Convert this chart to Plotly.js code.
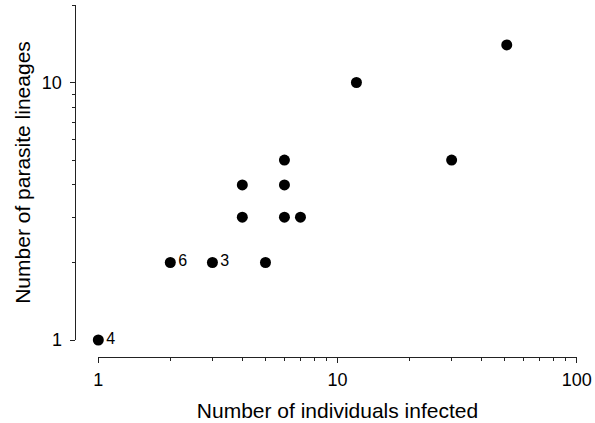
<!DOCTYPE html>
<html>
<head>
<meta charset="utf-8">
<script src="https://cdn.plot.ly/plotly-3.0.1.min.js"></script>
<style>
  html, body { margin: 0; padding: 0; background: #ffffff; }
  #chart { width: 595px; height: 423px; }
</style>
</head>
<body>
<div id="chart"></div>
<script>
// Data
const individualsInfected = [1, 2, 3, 5, 4, 4, 6, 6, 6, 7, 12, 30, 51];
const parasiteLineages    = [1, 2, 2, 2, 3, 4, 3, 4, 5, 3, 10, 5, 14];
const pointLabels         = ['4', '6', '3', '', '', '', '', '', '', '', '', '', ''];

const xTickVals = [1, 10, 100];
const xTickText = ['1', '10', '100'];
const xMinorVals = [2, 3, 4, 5, 6, 7, 8, 9, 20, 30, 40, 50, 60, 70, 80, 90];
const yTickVals = [1, 10];
const yTickText = ['1', '10'];
const yMinorVals = [2, 3, 4, 5, 6, 7, 8, 9, 20];

const W = 595, H = 423;
const font = 'Liberation Sans, Arial, Helvetica, sans-serif';

const trace = {
  type: 'scatter',
  mode: 'markers+text',
  x: individualsInfected,
  y: parasiteLineages,
  text: pointLabels,
  textposition: 'middle right',
  textfont: { family: font, size: 16, color: '#000' },
  marker: { size: 11, color: '#000' },
  cliponaxis: false,
  hoverinfo: 'x+y'
};

const axisCommon = {
  type: 'log',
  showgrid: false,
  zeroline: false,
  showline: true,
  linecolor: '#222',
  linewidth: 1,
  ticks: 'outside',
  ticklen: 5,
  tickwidth: 1,
  tickcolor: '#222',
  tickfont: { family: font, size: 18, color: '#000' },
  anchor: 'free',
  automargin: false,
  fixedrange: true
};

const layout = {
  width: W,
  height: H,
  margin: { l: 0, r: 0, t: 0, b: 0, pad: 0 },
  paper_bgcolor: '#fff',
  plot_bgcolor: '#fff',
  showlegend: false,
  font: { family: font, color: '#000' },
  xaxis: Object.assign({}, axisCommon, {
    range: [0, 2],
    domain: [98.3 / W, 576.7 / W],
    position: (H - 356.7) / H,
    tickmode: 'array',
    tickvals: xTickVals,
    ticktext: xTickText,
    ticklabelstandoff: 2,
    minor: { tickmode: 'array', tickvals: xMinorVals, ticks: 'outside', ticklen: 3, tickcolor: '#222', showgrid: false },
    title: { text: 'Number of individuals infected', font: { family: font, size: 21, color: '#000' }, standoff: 14 }
  }),
  yaxis: Object.assign({}, axisCommon, {
    range: [0, Math.log10(20)],
    domain: [(H - 340) / H, (H - 5) / H],
    position: 74.5 / W,
    tickmode: 'array',
    tickvals: yTickVals,
    ticktext: yTickText,
    ticklabelstandoff: 4,
    minor: { tickmode: 'array', tickvals: yMinorVals, ticks: 'outside', ticklen: 3, tickcolor: '#222', showgrid: false },
    title: { text: 'Number of parasite lineages', font: { family: font, size: 21, color: '#000' }, standoff: 4 }
  })
};

Plotly.newPlot('chart', [trace], layout, { displayModeBar: false, staticPlot: true });
</script>
</body>
</html>
